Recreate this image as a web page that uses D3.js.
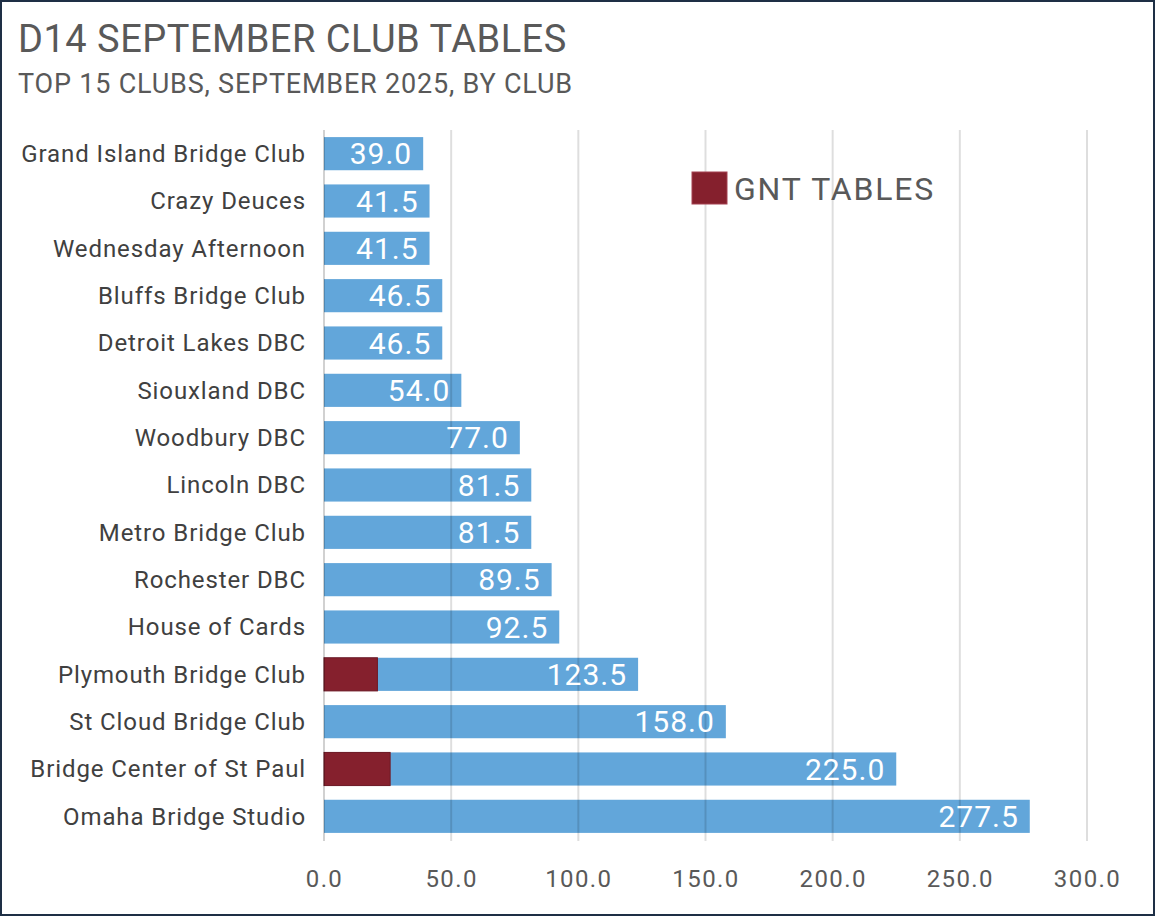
<!DOCTYPE html>
<html>
<head>
<meta charset="utf-8">
<script src="https://cdn.jsdelivr.net/npm/d3@7"></script>
<style>
  body { margin: 0; background: #fff; }
  svg text { font-family: Roboto, "Open Sans", sans-serif; }
</style>
</head>
<body>
<div id="chart"></div>
<script>
const clubs = [
	"Grand Island Bridge Club",
	"Crazy Deuces",
	"Wednesday Afternoon",
	"Bluffs Bridge Club",
	"Detroit Lakes DBC",
	"Siouxland DBC",
	"Woodbury DBC",
	"Lincoln DBC",
	"Metro Bridge Club",
	"Rochester DBC",
	"House of Cards",
	"Plymouth Bridge Club",
	"St Cloud Bridge Club",
	"Bridge Center of St Paul",
	"Omaha Bridge Studio"
];
const totalTables = [39.0, 41.5, 41.5, 46.5, 46.5, 54.0, 77.0, 81.5, 81.5, 89.5, 92.5, 123.5, 158.0, 225.0, 277.5];
const gntTables = [0, 0, 0, 0, 0, 0, 0, 0, 0, 0, 0, 21.0, 0, 26.0, 0];
const xTicks = [0, 50, 100, 150, 200, 250, 300];

function drawChart() {
	const width = 1155;
	const height = 916;
	const margin = { top: 130, right: 68, bottom: 76, left: 324 };

	const data = clubs.map((club, i) => ({ club, total: totalTables[i], gnt: gntTables[i] }));

	d3.select("#chart-svg").remove();

	const svg = d3
		.select("#chart")
		.append("svg")
		.attr("id", "chart-svg")
		.attr("width", width)
		.attr("height", height);

	svg.append("rect")
		.attr("x", 1)
		.attr("y", 1)
		.attr("width", width - 2)
		.attr("height", height - 2)
		.attr("fill", "#fff")
		.attr("stroke", "#1e2f45")
		.attr("stroke-width", 2);

	svg.append("text")
		.attr("x", 18)
		.attr("y", 52)
		.style("font-size", "38px")
		.style("letter-spacing", "0.5px")
		.style("fill", "#595959")
		.text("D14 SEPTEMBER CLUB TABLES");

	svg.append("text")
		.attr("x", 18)
		.attr("y", 93)
		.style("font-size", "27px")
		.style("letter-spacing", "0.8px")
		.style("fill", "#595959")
		.text("TOP 15 CLUBS, SEPTEMBER 2025, BY CLUB");

	const x = d3.scaleLinear().domain([0, 300]).range([margin.left, width - margin.right]);
	const y = d3.scaleBand().domain(clubs).range([margin.top, height - margin.bottom]).paddingInner(0.3).paddingOuter(0.15);

	// category labels
	svg.append("g")
		.selectAll("text")
		.data(data)
		.join("text")
		.attr("x", margin.left - 18)
		.attr("y", (d) => y(d.club) + y.bandwidth() / 2)
		.attr("dy", "0.35em")
		.attr("text-anchor", "end")
		.style("font-size", "24px")
		.style("letter-spacing", "0.9px")
		.style("fill", "#404040")
		.text((d) => d.club);

	// total bars
	svg.append("g")
		.selectAll("rect")
		.data(data)
		.join("rect")
		.attr("x", x(0))
		.attr("y", (d) => y(d.club))
		.attr("width", (d) => x(d.total) - x(0))
		.attr("height", y.bandwidth())
		.attr("fill", "#62a6da");

	// GNT overlay
	svg.append("g")
		.selectAll("rect")
		.data(data.filter((d) => d.gnt > 0))
		.join("rect")
		.attr("x", x(0))
		.attr("y", (d) => y(d.club))
		.attr("width", (d) => x(d.gnt) - x(0))
		.attr("height", y.bandwidth())
		.attr("fill", "#85202d")
		.attr("stroke", "#6e1824")
		.attr("stroke-width", 1);

	// gridlines drawn over bars, like the original
	svg.append("g")
		.selectAll("line")
		.data(xTicks)
		.join("line")
		.attr("x1", (d) => x(d))
		.attr("x2", (d) => x(d))
		.attr("y1", margin.top)
		.attr("y2", height - margin.bottom + 1)
		.attr("stroke", "#000")
		.attr("stroke-opacity", (d) => (d === 0 ? 0.18 : 0.13))
		.attr("stroke-width", 2);

	// value labels
	svg.append("g")
		.selectAll("text")
		.data(data)
		.join("text")
		.attr("x", (d) => x(d.total) - 11)
		.attr("y", (d) => y(d.club) + y.bandwidth() / 2)
		.attr("dy", "0.36em")
		.attr("text-anchor", "end")
		.style("font-size", "30px")
		.style("letter-spacing", "1px")
		.style("fill", "#fff")
		.text((d) => d.total.toFixed(1));

	// x axis labels
	const xAxis = d3.axisBottom(x).tickValues(xTicks).tickFormat(d3.format(".1f")).tickSize(0).tickPadding(30);
	const axisG = svg.append("g").attr("transform", `translate(0,${height - margin.bottom})`).call(xAxis);
	axisG.select(".domain").remove();
	axisG.selectAll("text")
		.style("font-size", "24px")
		.style("letter-spacing", "1.4px")
		.style("fill", "#595959")
		.style("font-family", "Roboto, sans-serif");

	// legend
	const legend = svg.append("g").attr("transform", "translate(692,172)");
	legend.append("rect").attr("width", 35).attr("height", 32).attr("fill", "#85202d").attr("stroke", "#a34050");
	legend.append("text")
		.attr("x", 42)
		.attr("y", 16)
		.attr("dy", "0.36em")
		.style("font-size", "32px")
		.style("letter-spacing", "1.8px")
		.style("fill", "#595959")
		.text("GNT TABLES");
}

drawChart();
</script>
</body>
</html>
